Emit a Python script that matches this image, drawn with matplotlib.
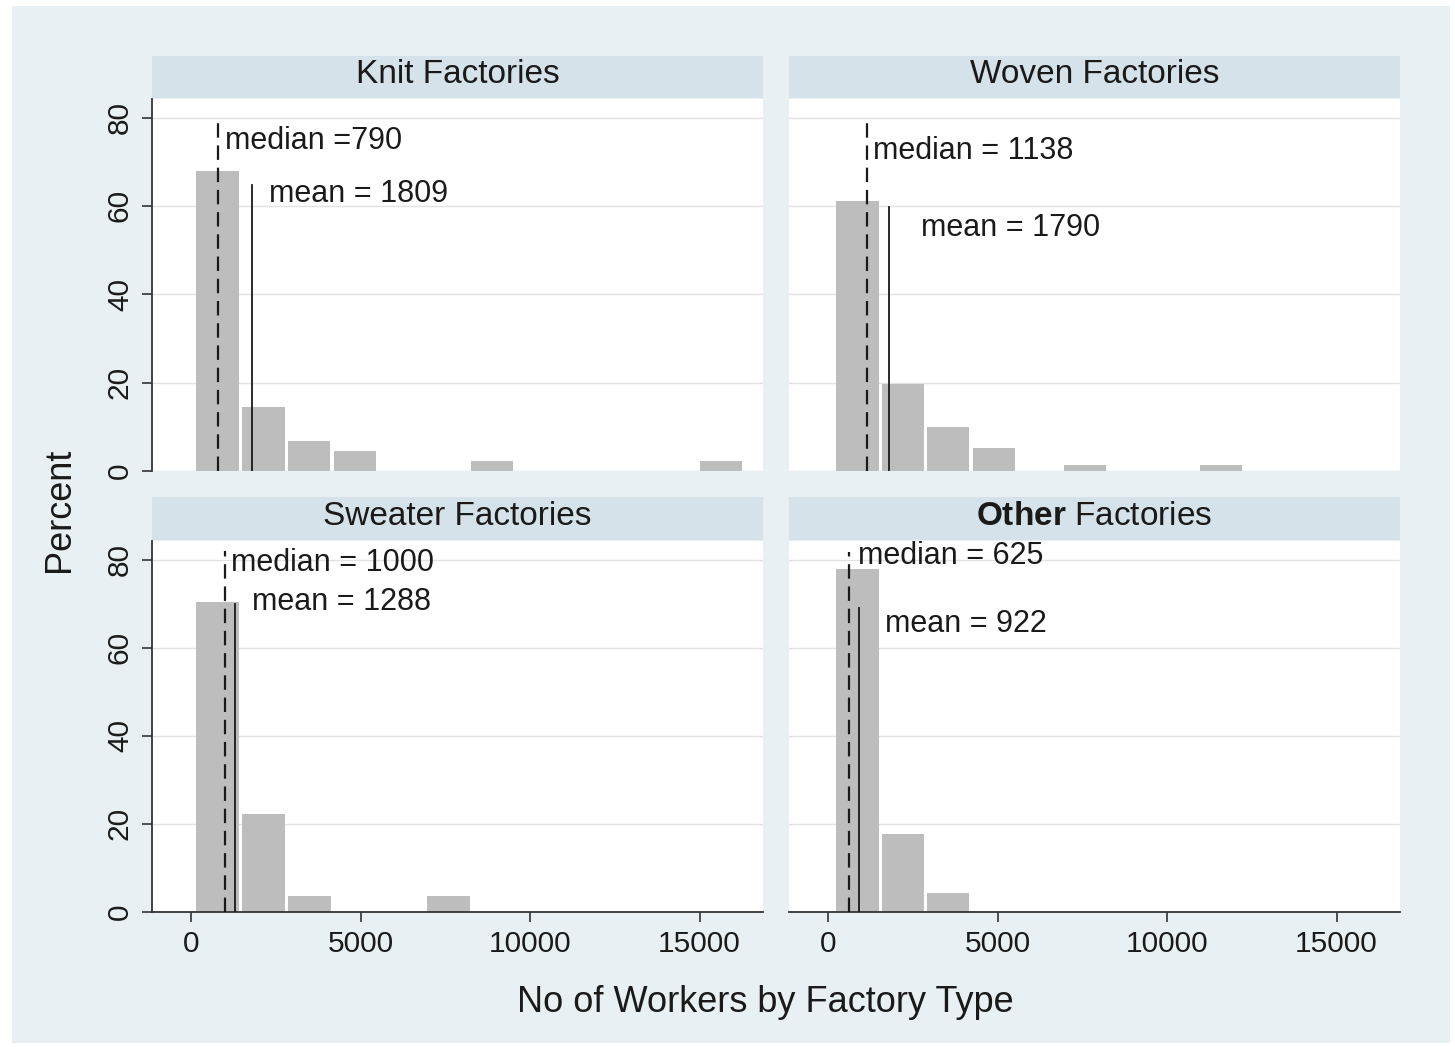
import numpy as np
import matplotlib
matplotlib.use("Agg")
import matplotlib.pyplot as plt
from matplotlib.patches import Rectangle

plt.rcParams["font.family"] = ["Liberation Sans", "DejaVu Sans"]
plt.rcParams["mathtext.fontset"] = "custom"
plt.rcParams["mathtext.rm"] = "Liberation Sans"
plt.rcParams["mathtext.bf"] = "Liberation Sans:bold"

# ---- data: percent of factories per size bin, by factory type ----
panel_titles = ["Knit Factories", "Woven Factories",
                "Sweater Factories", r"$\mathbf{Other}$ Factories"]

knit_start, knit_width = 108, 1350
knit_pct = [68.0, 14.5, 6.8, 4.6, 0, 0, 2.2, 0, 0, 0, 0, 2.2]

woven_start, woven_width = 200, 1340
woven_pct = [61.0, 19.8, 9.9, 5.3, 0, 1.3, 0, 0, 1.3]

sweater_start, sweater_width = 108, 1360
sweater_pct = [70.4, 22.2, 3.7, 0, 0, 3.7]

other_start, other_width = 200, 1340
other_pct = [77.8, 17.8, 4.4]

medians = [790, 1138, 1000, 625]
means = [1809, 1790, 1288, 922]
median_labels = ["median =790", "median = 1138", "median = 1000", "median = 625"]
mean_labels = ["mean = 1809", "mean = 1790", "mean = 1288", "mean = 922"]

x_ticks = [0, 5000, 10000, 15000]
y_ticks = [0, 20, 40, 60, 80]

# ---- layout helpers (pixel boxes on a 1455 x 1047 canvas) ----
W, H = 1455, 1047
BG = "#e9f0f3"
STRIP = "#d6e2ea"
BAR = "#bdbdbd"
INK = "#1a1a1a"


def box(x0, y0, x1, y1):
    return [x0 / W, 1 - y1 / H, (x1 - x0) / W, (y1 - y0) / H]


fig = plt.figure(figsize=(W / 100, H / 100), dpi=100)
fig.patch.set_facecolor("white")
fig.patches.append(Rectangle((12 / W, 1 - 1043 / H), (1450 - 12) / W, (1043 - 6) / H,
                             transform=fig.transFigure, facecolor=BG,
                             edgecolor="none", zorder=-10))

cols = [(152, 763), (789, 1400)]
rows = [(99, 471, 56, 98), (541, 912, 497, 540)]

series = [
    (knit_start, knit_width, knit_pct),
    (woven_start, woven_width, woven_pct),
    (sweater_start, sweater_width, sweater_pct),
    (other_start, other_width, other_pct),
]

# label anchor positions (data units) for the median / mean annotations
median_text_xy = [(1000, 74.8), (1330, 72.5), (1180, 79.3), (880, 80.9)]
mean_text_xy = [(2300, 62.7), (2730, 55.0), (1800, 70.4), (1680, 65.4)]
median_top = [80, 80, 82, 81.8]
mean_top = [64.8, 59.8, 70.0, 69.0]

for i in range(4):
    r, c = divmod(i, 2)
    x0, x1 = cols[c]
    py0, py1, sy0, sy1 = rows[r]

    # strip with the panel title
    sax = fig.add_axes(box(x0, sy0, x1, sy1))
    sax.set_facecolor(STRIP)
    sax.set_xticks([])
    sax.set_yticks([])
    for s in sax.spines.values():
        s.set_visible(False)
    sax.text(0.5, 0.55, panel_titles[i], ha="center", va="center",
             fontsize=24, color=INK, transform=sax.transAxes)

    ax = fig.add_axes(box(x0, py0, x1, py1))
    ax.set_facecolor("white")
    start, bw, pct = series[i]
    edges = start + bw * np.arange(len(pct))
    centers = edges + bw / 2
    ax.bar(centers, pct, width=bw * 0.93, color=BAR, edgecolor="none",
           align="center", zorder=2)

    ax.set_xlim(-1150, 16870)
    ax.set_ylim(0, 84.2)
    ax.set_yticks(y_ticks)
    ax.set_xticks(x_ticks)
    ax.yaxis.grid(True, color="#e2e2e2", linewidth=1.0, zorder=0)
    ax.set_axisbelow(True)

    for s in ["top", "right"]:
        ax.spines[s].set_visible(False)
    ax.spines["left"].set_visible(c == 0)
    ax.spines["bottom"].set_visible(r == 1)
    for s in ["left", "bottom"]:
        ax.spines[s].set_color("#333333")
        ax.spines[s].set_linewidth(1.3)

    if c == 0:
        ax.tick_params(axis="y", length=7, width=1.2, color="#333333",
                       labelsize=21.5, labelcolor=INK, pad=6)
        for lab in ax.get_yticklabels():
            lab.set_rotation(90)
            lab.set_va("center")
    else:
        ax.tick_params(axis="y", left=False, labelleft=False)

    if r == 1:
        ax.tick_params(axis="x", length=7, width=1.2, color="#333333",
                       labelsize=21.5, labelcolor=INK, pad=6)
    else:
        ax.tick_params(axis="x", bottom=False, labelbottom=False)

    # median (dashed) and mean (solid) reference lines
    ax.plot([medians[i], medians[i]], [0, median_top[i]], color=INK,
            linewidth=1.6, linestyle=(0, (6.5, 3.5)), zorder=3)
    ax.plot([means[i], means[i]], [0, mean_top[i]], color=INK,
            linewidth=1.3, zorder=3)
    ax.text(*median_text_xy[i], median_labels[i], ha="left", va="center",
            fontsize=22, color=INK, zorder=4)
    ax.text(*mean_text_xy[i], mean_labels[i], ha="left", va="center",
            fontsize=22, color=INK, zorder=4)

fig.text(60 / W, 1 - 510 / H, "Percent", rotation=90, ha="center",
         va="center", fontsize=26, color=INK)
fig.text(765 / W, 1 - 1002 / H, "No of Workers by Factory Type", ha="center",
         va="center", fontsize=26, color=INK)

fig.savefig("out.png", dpi=100, facecolor=fig.get_facecolor())
